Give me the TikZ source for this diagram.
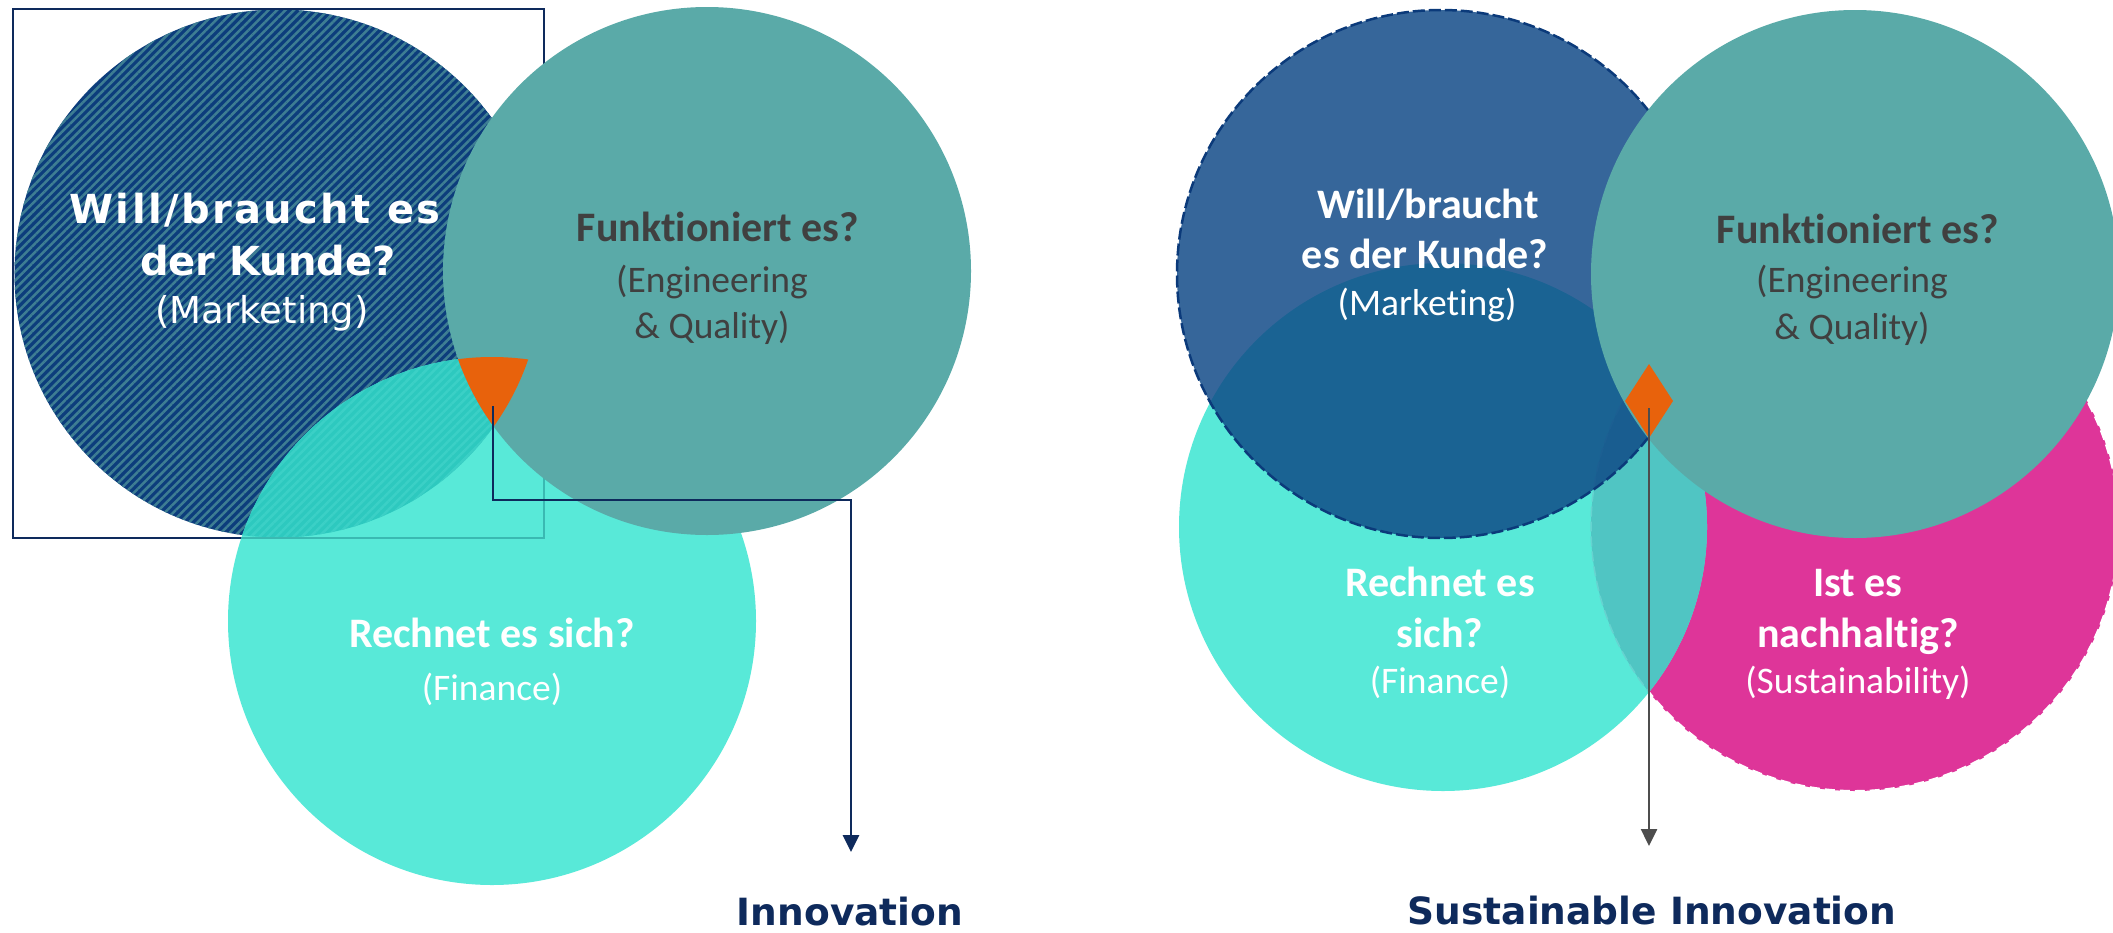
\documentclass[tikz,border=0pt]{standalone}
\usepackage{fontspec}
\usetikzlibrary{arrows.meta,patterns.meta}
\newfontfamily\calfont[Ligatures=NoCommon]{Carlito}
\newfontfamily\verfont{DejaVu Sans}
\newfontfamily\verwide[LetterSpace=6]{DejaVu Sans}
\definecolor{navy}{HTML}{0E2A5C}
\definecolor{mkdark}{HTML}{0C3D7C}
\definecolor{mkstripe}{HTML}{3E7E93}
\definecolor{funk}{HTML}{5AAAA8}
\definecolor{turq}{HTML}{58E9D8}
\definecolor{ovl}{HTML}{2DC9BF}
\definecolor{ovlstripe}{HTML}{3BD0C6}
\definecolor{rectline}{HTML}{3AB9B2}
\definecolor{orng}{HTML}{E8620C}
\definecolor{mag}{HTML}{DE3599}
\definecolor{lens}{HTML}{50C5C3}
\definecolor{lensline}{HTML}{66D3D0}
\definecolor{mkblue}{HTML}{0E4886}
\definecolor{mkborder}{HTML}{0B3A7A}
\definecolor{greytxt}{HTML}{404040}
\definecolor{greyline}{HTML}{4D4D4D}
\def\LM{(278.5,273.5) circle[radius=264]}
\def\LF{(707,271) circle[radius=264]}
\def\LR{(492,621) circle[radius=264]}
\def\RM{(1441,274) circle[radius=264]}
\def\RF{(1855,274) circle[radius=264]}
\def\RR{(1443,527) circle[radius=264]}
\def\RS{(1855,527) circle[radius=264]}
\begin{document}
\begin{tikzpicture}[x=1pt,y=-1pt,
  lbl/.style={anchor=base, inner sep=0pt},
  calb/.style={lbl, font=\calfont\bfseries\fontsize{42}{50}\selectfont},
  calr/.style={lbl, font=\calfont\fontsize{37.5}{44}\selectfont},
  verb/.style={lbl, font=\verfont\bfseries\fontsize{40}{48}\selectfont},
  verbw/.style={lbl, font=\verwide\bfseries\fontsize{40}{48}\selectfont},
  verr/.style={lbl, font=\verfont\fontsize{37}{44}\selectfont},
  title/.style={lbl, font=\verfont\bfseries\fontsize{37.5}{45}\selectfont, text=navy},
  hatch/.style={pattern={Lines[angle=45,distance=6pt,line width=2.5pt]}},
  arrowtip/.style={-{Triangle[length=17pt,width=16pt]}}
]
\useasboundingbox (0,0) rectangle (2113,932);
\fill[white] (0,0) rectangle (2113,932);

% ---------------- left panel ----------------
\fill[mkdark] \LM;
\fill[hatch, pattern color=mkstripe] \LM;
\draw[navy, line width=2pt] (13,9) rectangle (544,538);
\fill[turq] \LR;
\begin{scope}
  \clip \LM;
  \fill[ovl] \LR;
  \fill[hatch, pattern color=ovlstripe] \LR;
\end{scope}
\begin{scope}
  \clip \LR;
  \draw[rectline, line width=2pt] (13,9) rectangle (544,538);
\end{scope}
\fill[funk] \LF;
\begin{scope}
  \clip \LM;
  \clip \LF;
  \fill[orng] \LR;
\end{scope}

\node[verbw, text=white] (m1a) at (255,223) {Will/braucht es};
\node[verb, text=white] (m1b) at (268,275) {der Kunde?};
\node[verr, text=white] (m1c) at (262,323) {(Marketing)};

\node[calb, text=greytxt] (f1a) at (718,241) {Funktioniert es?};
\node[calr, text=greytxt] (f1b) at (712,292) {(Engineering};
\node[calr, text=greytxt] (f1c) at (712,338) {\& Quality)};

\node[calb, text=white] (r1a) at (492,647) {Rechnet es sich?};
\node[calr, text=white] (r1b) at (492,700) {(Finance)};

\coordinate (o1) at (493,406);
\coordinate (c1) at (851,500);
\coordinate (a1) at (851,852);
\draw[navy, line width=2.7pt, arrowtip] (o1) |- (c1) -- (a1);
\node[title] (innov) at (850,925) {Innovation};

% ---------------- right panel ----------------
\fill[mag] \RS;
\draw[white, line width=2pt, dash pattern=on 10pt off 5pt] \RS;
\fill[turq] \RR;
\begin{scope}
  \clip \RR;
  \fill[lens] \RS;
  \draw[lensline, line width=1.5pt, dash pattern=on 10pt off 5pt] \RS;
\end{scope}
\fill[mkblue, fill opacity=0.83] \RM;
\draw[mkborder, line width=2.5pt, dash pattern=on 12pt off 4pt] \RM;
\fill[funk] \RF;
\fill[orng] (1649,364) -- (1673,401) -- (1649,438) -- (1625,401) -- cycle;

\node[calb, text=white] (m2a) at (1428,218) {Will/braucht};
\node[calb, text=white] (m2b) at (1425,268) {es der Kunde?};
\node[calr, text=white] (m2c) at (1427,315) {(Marketing)};

\node[calb, text=greytxt] (f2a) at (1858,243) {Funktioniert es?};
\node[calr, text=greytxt] (f2b) at (1852,292) {(Engineering};
\node[calr, text=greytxt] (f2c) at (1852,339) {\& Quality)};

\node[calb, text=white] (r2a) at (1440,596) {Rechnet es};
\node[calb, text=white] (r2b) at (1440,647) {sich?};
\node[calr, text=white] (r2c) at (1440,693) {(Finance)};

\node[calb, text=white] (s2a) at (1858,596) {Ist es};
\node[calb, text=white] (s2b) at (1858,647) {nachhaltig?};
\node[calr, text=white] (s2c) at (1858,693) {(Sustainability)};

\coordinate (o2) at (1649,408);
\coordinate (a2) at (1649,846);
\draw[greyline, line width=2.5pt, arrowtip] (o2) -- (a2);
\node[title] (sinnov) at (1652,924) {Sustainable Innovation};
\end{tikzpicture}
\end{document}
